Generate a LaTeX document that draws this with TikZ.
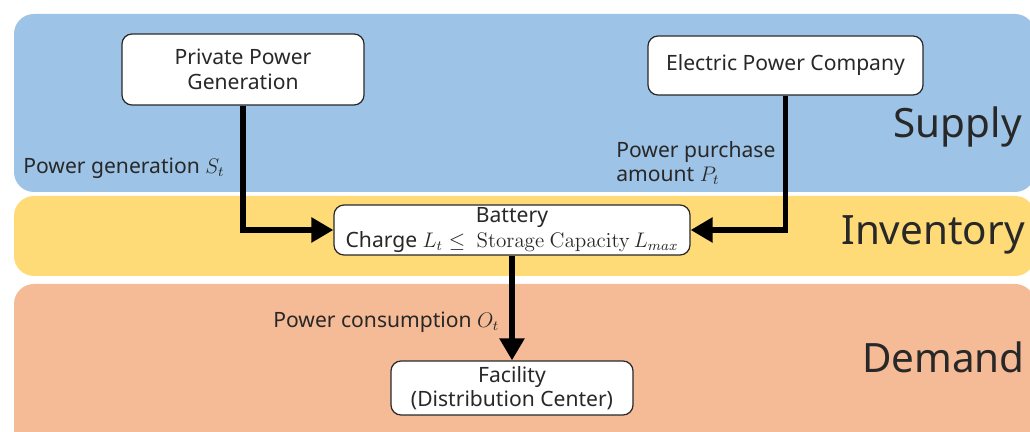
\documentclass[tikz,border=0pt]{standalone}
\usepackage{amsmath,amssymb}
\usepackage[no-math]{fontspec}
\setmainfont{Noto Sans}
\usepackage{xcolor}
\usepackage{tikz}
\usetikzlibrary{arrows.meta,positioning,calc}
\definecolor{supplyblue}{RGB}{157, 195, 230}
\definecolor{stockyellow}{RGB}{255, 219, 120}
\definecolor{demandorange}{RGB}{245, 186, 150}
\definecolor{inkgray}{RGB}{40, 40, 40}

\begin{document}
\begin{tikzpicture}
    \tikzstyle{band} = [draw=none, rounded corners=4mm]
    \tikzstyle{wbox} = [draw=inkgray, fill=white, line width=0.7pt, rounded corners=2mm, align=center, font=\fontsize{12}{14}\selectfont, text=inkgray, inner sep=0pt]
    \tikzstyle{parrow} = [line width=3.4pt, -{Triangle[length=0.44cm,width=0.48cm]}, black]
    \tikzstyle{flabel} = [font=\fontsize{12}{14}\selectfont, text=inkgray, align=left, inner sep=0pt]
    \tikzstyle{zlabel} = [font=\fontsize{23}{26}\selectfont, text=inkgray, inner sep=0pt]

    \useasboundingbox (0, 0) rectangle (20.6, 8.64);

    % Bands
    \fill[band, supplyblue] (0.28, 4.8) rectangle (20.7, 8.36);
    \fill[band, stockyellow] (0.28, 3.12) rectangle (20.7, 4.72);
    \fill[band, demandorange] (0.28, -0.5) rectangle (20.7, 2.96);

    \node[zlabel, anchor=east] (supply) at (20.44, 6.1) {Supply};
    \node[zlabel, anchor=east] (inventory) at (20.5, 3.94) {Inventory};
    \node[zlabel, anchor=east] (demand) at (20.5, 1.5) {Demand};

    \node[wbox, minimum width=4.84cm, minimum height=1.42cm] (prv) at (4.86, 7.25) {Private Power\\Generation};
    \node[wbox, minimum width=5.5cm, minimum height=1.18cm] (epc) at (15.71, 7.33) {Electric Power Company};
    \node[wbox, minimum width=7.12cm, minimum height=1.0cm] (bat) at (10.24, 4.04) {Battery\\Charge $L_t \leq\ \mathrm{Storage\ Capacity}\, L_{max}$};
    \node[wbox, minimum width=4.84cm, minimum height=1.08cm] (fac) at (10.24, 0.88) {Facility\\(Distribution Center)};

    \node[flabel, anchor=west] (gen) at (0.46, 5.28) {Power generation $S_t$};
    \node[flabel, anchor=west] (buy) at (12.32, 5.38) {Power purchase\\amount $P_t$};
    \node[flabel, anchor=west] (use) at (5.46, 2.2) {Power consumption $O_t$};

    \draw[parrow] (prv.south) |- (bat.west);
    \draw[parrow] (epc.south) |- (bat.east);
    \draw[parrow] (bat.south) -- (fac.north);
\end{tikzpicture}
\end{document}
